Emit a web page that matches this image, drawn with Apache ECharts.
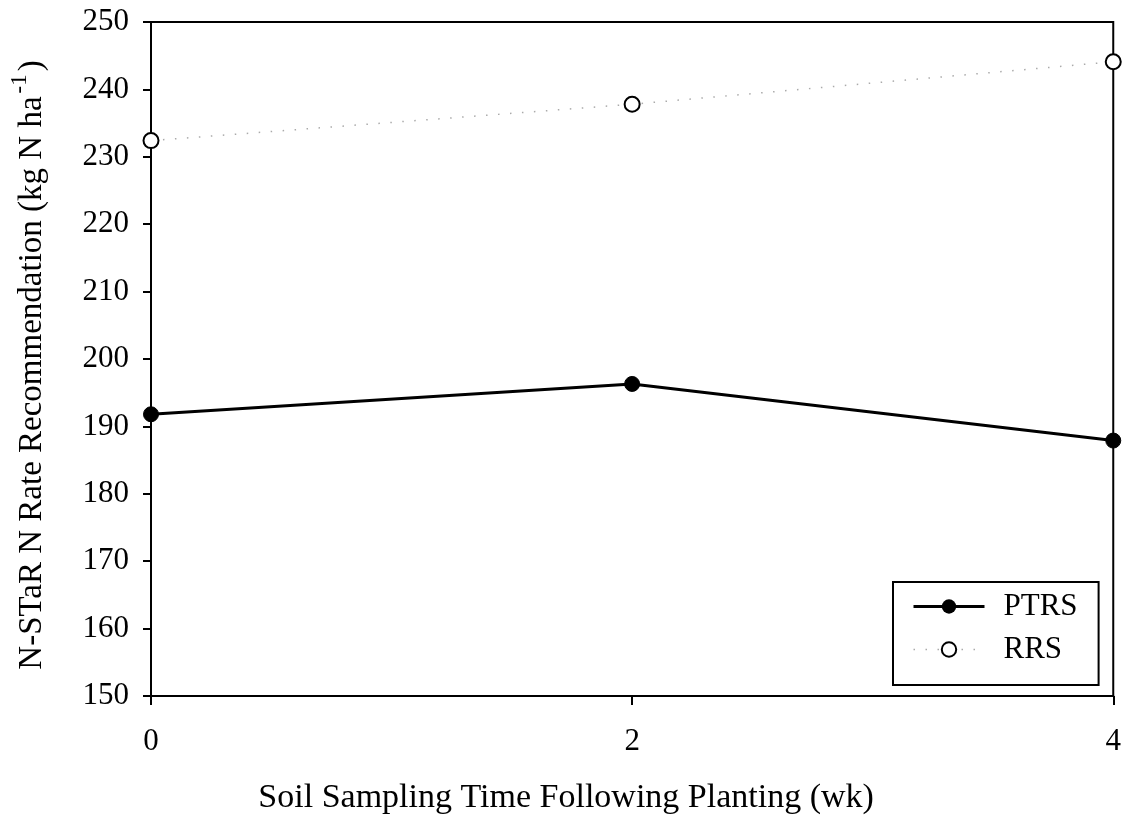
<!DOCTYPE html>
<html><head><meta charset="utf-8">
<script src="https://cdn.jsdelivr.net/npm/echarts@6/dist/echarts.min.js"></script>
<style>html,body{margin:0;padding:0;background:#fff}#c{width:1124px;height:821px}</style>
</head><body><div id="c"></div>
<script>
const weeks = [0, 2, 4];
const ptrs = [191.8, 196.3, 187.9];
const rrs = [232.4, 237.8, 244.1];
const yTicks = {min: 150, max: 250, interval: 10};
const xTicks = {min: 0, max: 4, interval: 2};
const FONT = 'Liberation Serif';

const chart = echarts.init(document.getElementById('c'), null, {renderer: 'canvas'});
chart.setOption({
  animation: false,
  backgroundColor: '#fff',
  grid: {left: 149, right: 9, top: 22, bottom: 125, show: true, borderColor: '#000', borderWidth: 2, backgroundColor: 'transparent'},
  xAxis: {
    type: 'value', min: xTicks.min, max: xTicks.max, interval: xTicks.interval,
    name: 'Soil Sampling Time Following Planting (wk)', nameLocation: 'middle', nameGap: 85,
    nameTextStyle: {fontFamily: FONT, fontSize: 34, color: '#000', padding: [0, 132, 0, 0]},
    axisLine: {lineStyle: {color: '#000', width: 2}},
    axisTick: {show: true, inside: false, length: 9, lineStyle: {color: '#000', width: 2}},
    axisLabel: {fontFamily: FONT, fontSize: 31, color: '#000', margin: 30},
    splitLine: {show: false}
  },
  yAxis: {
    type: 'value', min: yTicks.min, max: yTicks.max, interval: yTicks.interval,
    name: '{n|N-STaR N Rate Recommendation (kg N ha}{s|-1}{n|)}', nameLocation: 'middle', nameGap: 94, nameRotate: 90,
    nameTextStyle: {padding: [0, 12, 0, 0], rich: {n: {fontFamily: FONT, fontSize: 33, color: '#000'}, s: {fontFamily: FONT, fontSize: 23, color: '#000', verticalAlign: 'top', padding: [0, 3, 26, 3]}}},
    axisLine: {lineStyle: {color: '#000', width: 2}},
    axisTick: {show: true, inside: false, length: 8, lineStyle: {color: '#000', width: 2}},
    axisLabel: {fontFamily: FONT, fontSize: 31, color: '#000', margin: 22},
    splitLine: {show: false}
  },
  legend: {
    orient: 'vertical', left: 893, top: 582,
    padding: [9, 21, 20, 19], itemGap: 12, itemWidth: 71, itemHeight: 18,
    borderColor: '#000', borderWidth: 2, backgroundColor: '#fff',
    textStyle: {fontFamily: FONT, fontSize: 31, color: '#000', padding: [0, 0, 0, 14]},
    data: [
      {name: 'PTRS', lineStyle: {width: 3, color: '#000'}},
      {name: 'RRS', lineStyle: {width: 1.5, color: '#aaa', type: [1.5, 10.5]}}
    ]
  },
  series: [
    {name: 'PTRS', type: 'line', data: weeks.map((w, i) => [w, ptrs[i]]),
     symbol: 'circle', symbolSize: 15, itemStyle: {color: '#000', borderColor: '#000'},
     lineStyle: {color: '#000', width: 3}},
    {name: 'RRS', type: 'line', data: weeks.map((w, i) => [w, rrs[i]]),
     symbol: 'circle', symbolSize: 15, itemStyle: {color: '#fff', borderColor: '#000', borderWidth: 2},
     lineStyle: {color: '#aaa', width: 1.5, type: [1.5, 10.5]}, z: 3}
  ]
});
</script></body></html>
